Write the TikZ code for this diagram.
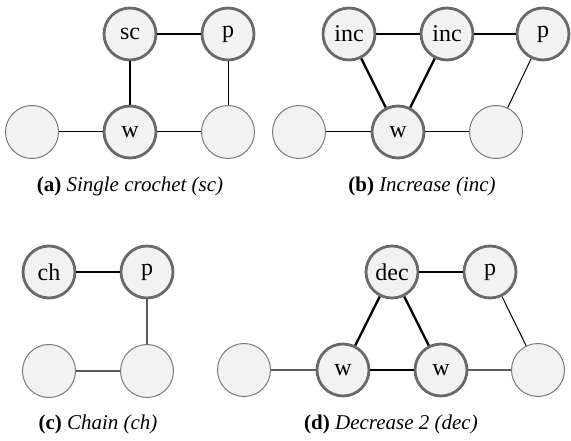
\documentclass[tikz,border=0pt]{standalone}
\usepackage{fontspec}
\setmainfont{Liberation Serif}
\definecolor{nodefill}{HTML}{F2F2F2}
\definecolor{ringgray}{HTML}{696969}
\definecolor{thingray}{HTML}{7A7A7A}
\definecolor{edgegray}{HTML}{5A5A5A}
\begin{document}
\begin{tikzpicture}[x=1pt,y=-1pt,
  keynode/.style={circle,draw=ringgray,line width=2.8pt,fill=nodefill,minimum size=52pt,inner sep=0pt,font=\fontsize{24}{26}\selectfont},
  plainnode/.style={circle,draw=thingray,line width=1pt,fill=nodefill,minimum size=53pt,inner sep=0pt},
  boldedge/.style={draw=black,line width=2.3pt},
  thinedge/.style={draw=black,line width=1pt},
  grayedge/.style={draw=edgegray,line width=1.4pt},
  captext/.style={font=\fontsize{21}{24}\selectfont}]
\useasboundingbox (0,0) rectangle (571,441);
% (a)
\node[plainnode] (aL) at (32,132) {};
\node[keynode] (aW) at (130,132) {w};
\node[plainnode] (aR) at (228,132) {};
\node[keynode] (aS) at (130,34) {sc};
\node[keynode] (aP) at (228,34) {p};
\draw[boldedge] (aS) -- (aP);
\draw[boldedge] (aS) -- (aW);
\draw[thinedge] (aL) -- (aW);
\draw[thinedge] (aW) -- (aR);
\draw[thinedge] (aP) -- (aR);
\node[captext] (capa) at (130,186) {\textbf{(a)} \textit{Single crochet (sc)}};
% (b)
\node[plainnode] (bL) at (299,132) {};
\node[keynode] (bW) at (398,132) {w};
\node[plainnode] (bR) at (496,132) {};
\node[keynode] (bI) at (349,34) {inc};
\node[keynode] (bJ) at (447,34) {inc};
\node[keynode] (bP) at (543,34) {p};
\draw[boldedge] (bI) -- (bJ);
\draw[boldedge] (bJ) -- (bP);
\draw[boldedge] (bI) -- (bW);
\draw[boldedge] (bJ) -- (bW);
\draw[thinedge] (bL) -- (bW);
\draw[thinedge] (bW) -- (bR);
\draw[thinedge] (bP) -- (bR);
\node[captext] (capb) at (422,186) {\textbf{(b)} \textit{Increase (inc)}};
% (c)
\node[keynode] (cC) at (49,272) {ch};
\node[keynode] (cP) at (147,272) {p};
\node[plainnode] (cL) at (49,371) {};
\node[plainnode] (cR) at (147,371) {};
\draw[boldedge] (cC) -- (cP);
\draw[grayedge] (cP) -- (cR);
\draw[grayedge] (cL) -- (cR);
\node[captext] (capc) at (98,424) {\textbf{(c)} \textit{Chain (ch)}};
% (d)
\node[plainnode] (dL) at (244,370) {};
\node[keynode] (dW) at (343,370) {w};
\node[keynode] (dV) at (441,370) {w};
\node[plainnode] (dR) at (538,370) {};
\node[keynode] (dD) at (392,272) {dec};
\node[keynode] (dP) at (490,272) {p};
\draw[boldedge] (dD) -- (dP);
\draw[boldedge] (dD) -- (dW);
\draw[boldedge] (dD) -- (dV);
\draw[boldedge] (dW) -- (dV);
\draw[grayedge] (dL) -- (dW);
\draw[grayedge] (dV) -- (dR);
\draw[thinedge] (dP) -- (dR);
\node[captext] (capd) at (391,424) {\textbf{(d)} \textit{Decrease 2 (dec)}};
\end{tikzpicture}
\end{document}
